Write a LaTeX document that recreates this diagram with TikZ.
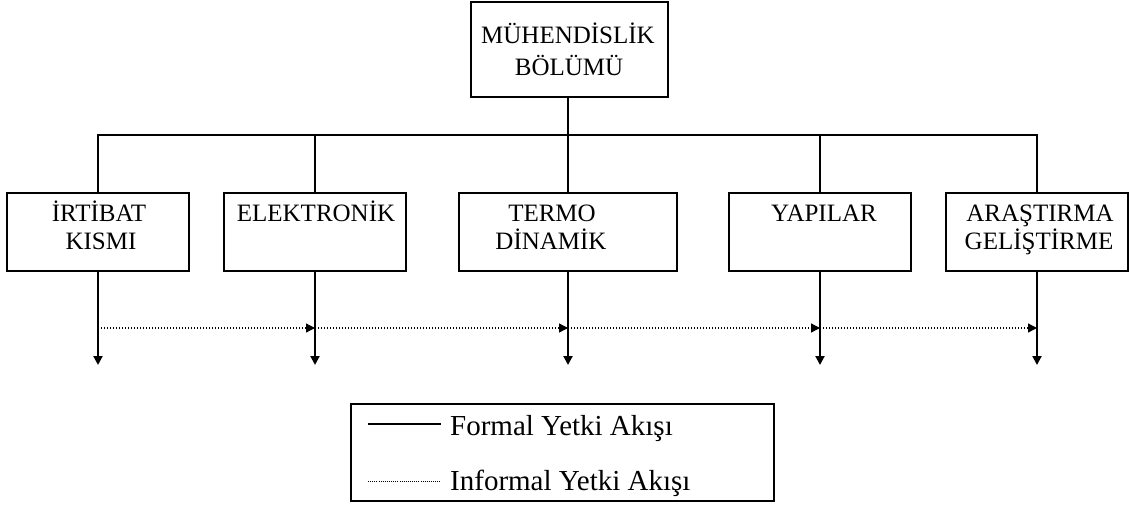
\documentclass[tikz,border=0pt]{standalone}
\usepackage{fontspec}
\setmainfont{Liberation Serif}
\usetikzlibrary{arrows.meta}
\begin{document}
\begin{tikzpicture}[x=1pt,y=-1pt,
  unitbox/.style={draw, line width=1.4pt, inner sep=0pt},
  boxtext/.style={anchor=base, inner sep=0pt, font=\fontsize{25}{29}\selectfont},
  legtext/.style={anchor=base west, inner sep=0pt, font=\fontsize{29}{33}\selectfont},
  formal/.style={line width=2pt},
  informal/.style={line width=1.3pt, dash pattern=on 1.2pt off 1.8pt},
  tip/.style={-{Triangle[length=9pt,width=9pt]}}
]
\useasboundingbox (0,0) rectangle (1131,506);

% head unit
\node[unitbox, minimum width=197pt, minimum height=95pt] (head) at (569.5,49.5) {};
\node[boxtext] (h1) at (568,43) {MÜHENDİSLİK};
\node[boxtext] (h2) at (569,75) {BÖLÜMÜ};

% sub-units
\node[unitbox, minimum width=182pt, minimum height=78pt] (b1) at (98,232) {};
\node[unitbox, minimum width=182pt, minimum height=78pt] (b2) at (315,232) {};
\node[unitbox, minimum width=218pt, minimum height=78pt] (b3) at (568,232) {};
\node[unitbox, minimum width=182pt, minimum height=78pt] (b4) at (820,232) {};
\node[unitbox, minimum width=182pt, minimum height=78pt] (b5) at (1037,232) {};

\node[boxtext] (t1a) at (99,221) {İRTİBAT};
\node[boxtext] (t1b) at (101,249) {KISMI};
\node[boxtext] (t2a) at (316,221) {ELEKTRONİK};
\node[boxtext] (t3a) at (552,221) {TERMO};
\node[boxtext] (t3b) at (551,249) {DİNAMİK};
\node[boxtext] (t4a) at (824,221) {YAPILAR};
\node[boxtext] (t5a) at (1040,221) {ARAŞTIRMA};
\node[boxtext] (t5b) at (1039,249) {GELİŞTİRME};

% formal authority tree
\coordinate (bus) at (568,135);
\draw[formal] (head.south -| bus) -- (bus);
\draw[formal] (b1.north) -- (b1.north |- bus) -- (b5.north |- bus) -- (b5.north);
\draw[formal] (b2.north) -- (b2.north |- bus);
\draw[formal] (b3.north) -- (b3.north |- bus);
\draw[formal] (b4.north) -- (b4.north |- bus);

% downward flows
\coordinate (low) at (0,365);
\coordinate (mid) at (0,328);
\foreach \b in {b1,b2,b3,b4,b5}{
  \draw[formal, tip] (\b.south) -- (\b.south |- low);
  \coordinate (\b m) at (\b.south |- mid);
}

% informal flows
\draw[informal, tip] (b1m) -- (b2m);
\draw[informal, tip] (b2m) -- (b3m);
\draw[informal, tip] (b3m) -- (b4m);
\draw[informal, tip] (b4m) -- (b5m);

% legend
\node[draw, line width=1.6pt, inner sep=0pt, minimum width=423pt, minimum height=97pt] (legend) at (562.5,452.5) {};
\coordinate (ls1) at (368,424);
\coordinate (le1) at (441,424);
\coordinate (ls2) at (368,481);
\coordinate (le2) at (440,481);
\draw[formal] (ls1) -- (le1);
\draw[line width=0.9pt, dash pattern=on 0.9pt off 1.2pt] (ls2) -- (le2);
\node[legtext] (lg1) at (450,435) {Formal Yetki Akışı};
\node[legtext] (lg2) at (450,490) {Informal Yetki Akışı};
\end{tikzpicture}
\end{document}
